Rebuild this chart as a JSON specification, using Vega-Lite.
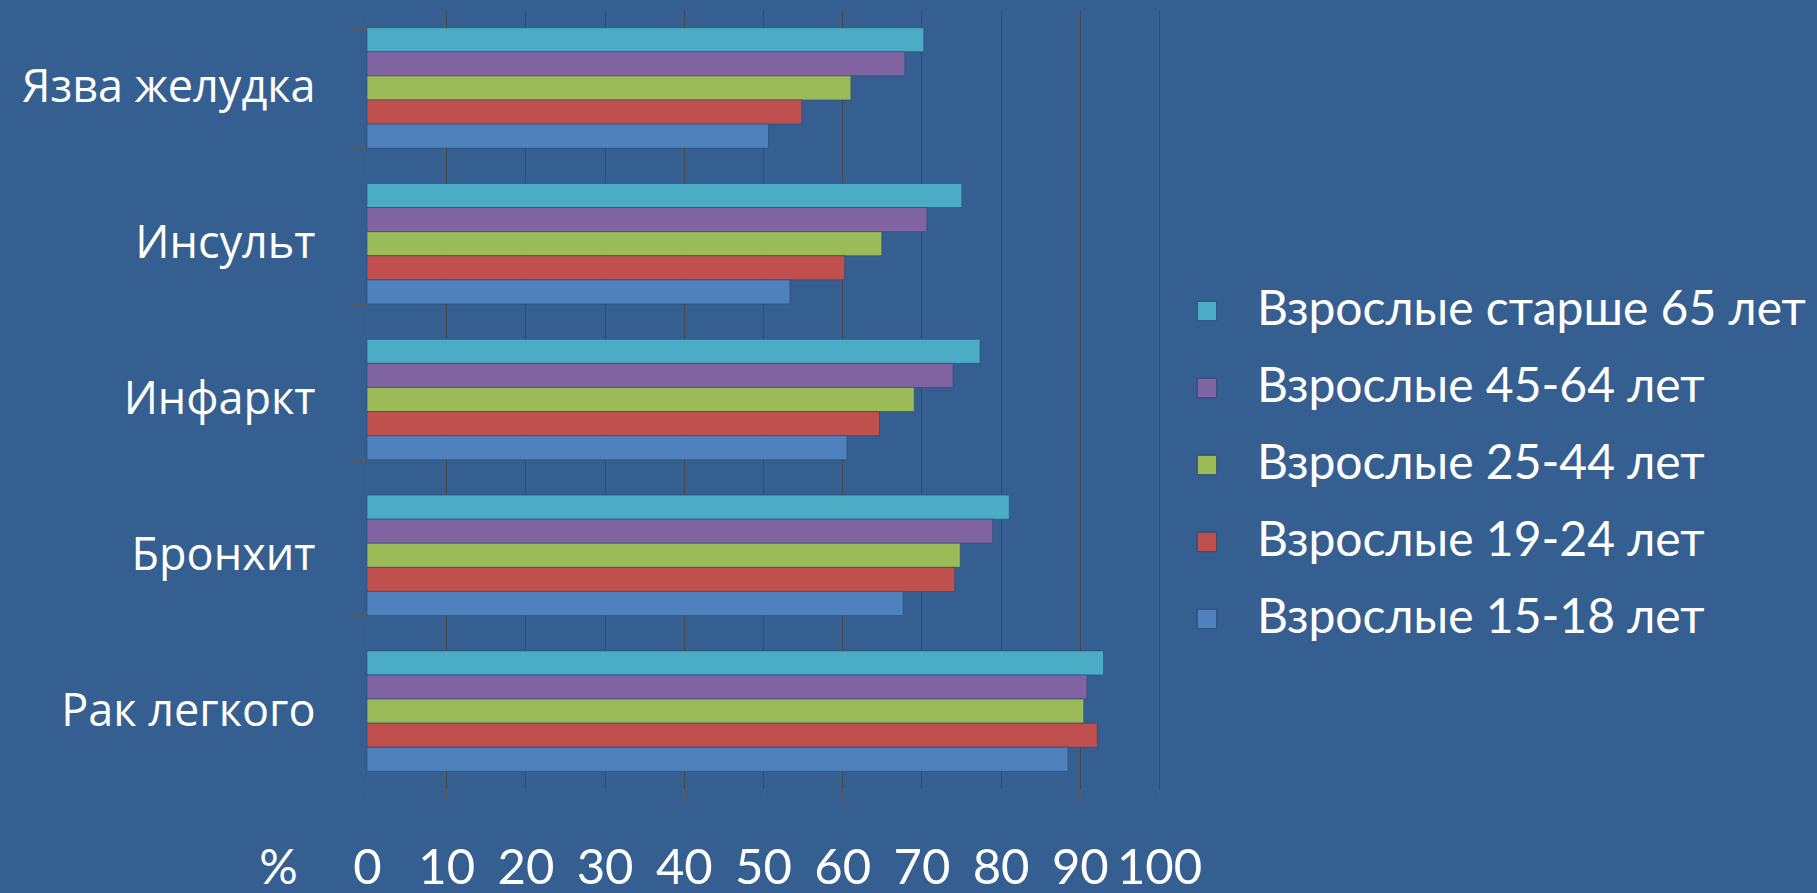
{
  "$schema": "https://vega.github.io/schema/vega-lite/v6.json",
  "width": 792,
  "height": 779,
  "autosize": {"type": "none"},
  "padding": {"left": 367, "top": 10, "right": 658, "bottom": 104},
  "background": "#365F91",
  "config": {
    "view": {"stroke": null},
    "axis": {"domainColor": "#5a5a5a", "tickColor": "#5a5a5a", "gridColor": "#474747", "labelColor": "#ffffff", "titleColor": "#ffffff"}
  },
  "data": {
    "values": [
      {"disease": "Язва желудка", "group": "Взрослые старше 65 лет", "value": 70.3},
      {"disease": "Язва желудка", "group": "Взрослые 45-64 лет", "value": 67.9},
      {"disease": "Язва желудка", "group": "Взрослые 25-44 лет", "value": 61.1},
      {"disease": "Язва желудка", "group": "Взрослые 19-24 лет", "value": 54.9},
      {"disease": "Язва желудка", "group": "Взрослые 15-18 лет", "value": 50.7},
      {"disease": "Инсульт", "group": "Взрослые старше 65 лет", "value": 75.1},
      {"disease": "Инсульт", "group": "Взрослые 45-64 лет", "value": 70.7},
      {"disease": "Инсульт", "group": "Взрослые 25-44 лет", "value": 65.0},
      {"disease": "Инсульт", "group": "Взрослые 19-24 лет", "value": 60.3},
      {"disease": "Инсульт", "group": "Взрослые 15-18 лет", "value": 53.4},
      {"disease": "Инфаркт", "group": "Взрослые старше 65 лет", "value": 77.4},
      {"disease": "Инфаркт", "group": "Взрослые 45-64 лет", "value": 74.0},
      {"disease": "Инфаркт", "group": "Взрослые 25-44 лет", "value": 69.1},
      {"disease": "Инфаркт", "group": "Взрослые 19-24 лет", "value": 64.7},
      {"disease": "Инфаркт", "group": "Взрослые 15-18 лет", "value": 60.6},
      {"disease": "Бронхит", "group": "Взрослые старше 65 лет", "value": 81.1},
      {"disease": "Бронхит", "group": "Взрослые 45-64 лет", "value": 79.0},
      {"disease": "Бронхит", "group": "Взрослые 25-44 лет", "value": 74.9},
      {"disease": "Бронхит", "group": "Взрослые 19-24 лет", "value": 74.2},
      {"disease": "Бронхит", "group": "Взрослые 15-18 лет", "value": 67.7},
      {"disease": "Рак легкого", "group": "Взрослые старше 65 лет", "value": 93.0},
      {"disease": "Рак легкого", "group": "Взрослые 45-64 лет", "value": 90.9},
      {"disease": "Рак легкого", "group": "Взрослые 25-44 лет", "value": 90.5},
      {"disease": "Рак легкого", "group": "Взрослые 19-24 лет", "value": 92.2},
      {"disease": "Рак легкого", "group": "Взрослые 15-18 лет", "value": 88.5}
    ]
  },
  "mark": {"type": "bar", "stroke": "#2c4a70", "strokeWidth": 1, "strokeOpacity": 0.6},
  "encoding": {
    "y": {
      "field": "disease", "type": "nominal",
      "sort": ["Язва желудка", "Инсульт", "Инфаркт", "Бронхит", "Рак легкого"],
      "scale": {"paddingInner": 0.227, "paddingOuter": 0.1135},
      "axis": {
        "title": null, "tickBand": "extent", "tickSize": 17, "domain": true,
        "labelFont": "Open Sans", "labelFontSize": 45, "labelPadding": 35, "labelLimit": 500,
        "labelColor": "#ffffff", "grid": false
      }
    },
    "yOffset": {
      "field": "group", "type": "nominal",
      "sort": ["Взрослые старше 65 лет", "Взрослые 45-64 лет", "Взрослые 25-44 лет", "Взрослые 19-24 лет", "Взрослые 15-18 лет"],
      "scale": {"paddingInner": 0, "paddingOuter": 0}
    },
    "x": {
      "field": "value", "type": "quantitative",
      "scale": {"domain": [0, 100], "nice": false},
      "axis": {
        "title": "%", "titleX": -89, "titleY": 80, "titleAlign": "center", "titleBaseline": "middle",
        "titleFont": "Lato", "titleFontSize": 48, "titleFontWeight": "normal",
        "values": [0, 10, 20, 30, 40, 50, 60, 70, 80, 90, 100],
        "tickSize": 14, "grid": true, "labelFont": "Lato", "labelFontSize": 49,
        "labelPadding": 41, "labelFlush": false, "labelOverlap": false
      }
    },
    "color": {
      "field": "group", "type": "nominal",
      "sort": ["Взрослые старше 65 лет", "Взрослые 45-64 лет", "Взрослые 25-44 лет", "Взрослые 19-24 лет", "Взрослые 15-18 лет"],
      "scale": {
        "domain": ["Взрослые старше 65 лет", "Взрослые 45-64 лет", "Взрослые 25-44 лет", "Взрослые 19-24 лет", "Взрослые 15-18 лет"],
        "range": ["#4BACC6", "#8064A2", "#9BBB59", "#C0504D", "#4F81BD"]
      },
      "legend": {
        "title": null, "orient": "none", "legendX": 816, "legendY": 277,
        "symbolType": "square", "symbolSize": 380, "symbolStrokeColor": "#2c4a70", "symbolStrokeWidth": 1,
        "labelFont": "Lato", "labelFontSize": 48, "labelColor": "#ffffff",
        "labelLimit": 700, "rowPadding": 29, "labelOffset": 26
      }
    }
  }
}
